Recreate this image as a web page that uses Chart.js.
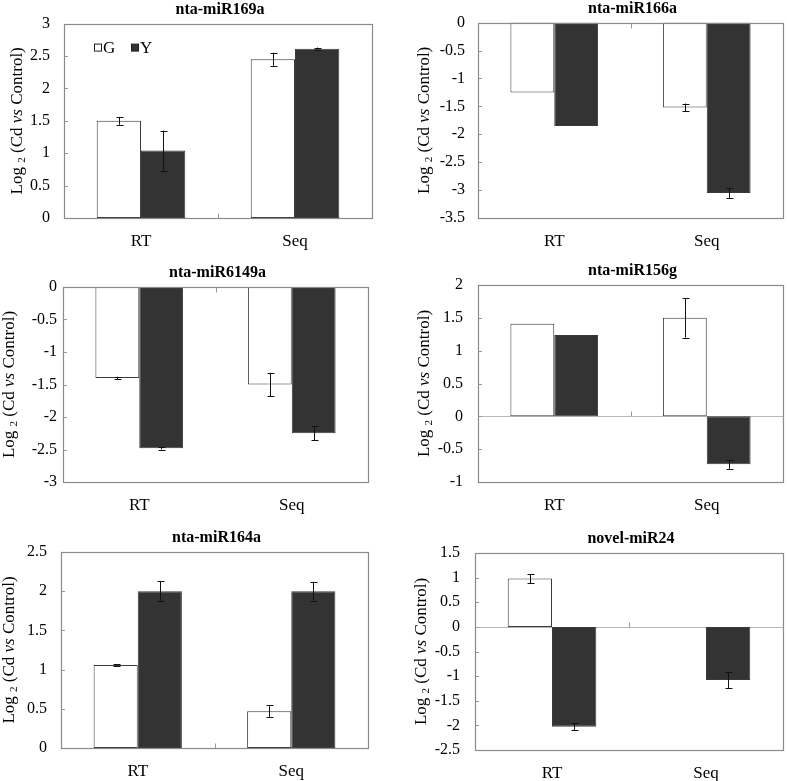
<!DOCTYPE html>
<html>
<head>
<meta charset="utf-8">
<script src="https://cdn.jsdelivr.net/npm/chart.js@4.4.0/dist/chart.umd.min.js"></script>
<style>
    body { margin: 0; background: #fff; width: 787px; height: 781px; position: relative; overflow: hidden; }
    .cell { position: absolute; }
</style>
</head>
<body>
<div class="cell" id="cell1"><canvas id="chart1"></canvas></div>
<div class="cell" id="cell2"><canvas id="chart2"></canvas></div>
<div class="cell" id="cell3"><canvas id="chart3"></canvas></div>
<div class="cell" id="cell4"><canvas id="chart4"></canvas></div>
<div class="cell" id="cell5"><canvas id="chart5"></canvas></div>
<div class="cell" id="cell6"><canvas id="chart6"></canvas></div>
<script>
// Data
const categories = ['RT', 'Seq'];
const seriesNames = ['G', 'Y'];

const mir169aG = [1.50, 2.45];
const mir169aGErr = [0.06, 0.10];
const mir169aY = [1.04, 2.61];
const mir169aYErr = [0.31, 0.02];

const mir166aG = [-1.25, -1.52];
const mir166aGErr = [0, 0.07];
const mir166aY = [-1.85, -3.05];
const mir166aYErr = [0, 0.09];

const mir6149aG = [-1.40, -1.50];
const mir6149aGErr = [0.02, 0.18];
const mir6149aY = [-2.48, -2.25];
const mir6149aYErr = [0.02, 0.11];

const mir156gG = [1.41, 1.50];
const mir156gGErr = [0, 0.30];
const mir156gY = [1.24, -0.73];
const mir156gYErr = [0, 0.07];

const mir164aG = [1.06, 0.47];
const mir164aGErr = [0.01, 0.08];
const mir164aY = [2.00, 2.00];
const mir164aYErr = [0.13, 0.12];

const miR24G = [0.98, 0];
const miR24GErr = [0.09, 0];
const miR24Y = [-2.03, -1.08];
const miR24YErr = [0.07, 0.16];

const panelTitles = ['nta-miR169a', 'nta-miR166a', 'nta-miR6149a', 'nta-miR156g', 'nta-miR164a', 'novel-miR24'];
const axisMin = [0, -3.5, -3, -1, 0, -2.5];
const axisMax = [3, 0, 0, 2, 2.5, 1.5];

const panelData = [
    [mir169aG, mir169aY, mir169aGErr, mir169aYErr],
    [mir166aG, mir166aY, mir166aGErr, mir166aYErr],
    [mir6149aG, mir6149aY, mir6149aGErr, mir6149aYErr],
    [mir156gG, mir156gY, mir156gGErr, mir156gYErr],
    [mir164aG, mir164aY, mir164aGErr, mir164aYErr],
    [miR24G, miR24Y, miR24GErr, miR24YErr]
];

// Layout: cell [x, y, w, h] and plot box [left, top, right, bottom] in page pixels
const panelLayout = [
    { cell: [0, 0, 390, 258],     plot: [64, 22, 372, 218],  yTitleX: 18, tickPad: 14, legend: true },
    { cell: [390, 0, 397, 258],   plot: [478, 22, 783, 218], yTitleX: 35, tickPad: 13 },
    { cell: [0, 258, 390, 260],   plot: [63, 287, 368, 482], yTitleX: 10, tickPad: 6 },
    { cell: [390, 258, 397, 260], plot: [478, 285, 783, 482], yTitleX: 35, tickPad: 15 },
    { cell: [0, 518, 390, 263],   plot: [61, 552, 368, 748], yTitleX: 10, tickPad: 14 },
    { cell: [390, 518, 397, 263], plot: [475, 553, 783, 750], yTitleX: 32, tickPad: 15 }
];

const SERIF = '"Liberation Serif", "Times New Roman", serif';
const G_FILL = '#ffffff';
const Y_FILL = '#333333';
const BAR_BORDER = '#3a3a3a';
const FRAME = '#8a8a8a';

// Draws the frame, zero line, error bars, titles and legend
const panelDecor = {
    id: 'panelDecor',
    beforeDatasetsDraw(chart, args, opts) {
        const ctx = chart.ctx;
        const a = chart.chartArea;
        const y = chart.scales.y;
        const zero = Math.round(y.getPixelForValue(0)) + 0.5;
        ctx.save();
        ctx.lineWidth = 1;
        // zero line
        if (zero > a.top + 2 && zero < a.bottom - 2) {
            ctx.strokeStyle = '#b8b8b8';
            ctx.beginPath();
            ctx.moveTo(a.left, zero);
            ctx.lineTo(a.right, zero);
            ctx.stroke();
        }
        // inward y ticks
        ctx.strokeStyle = '#999';
        y.ticks.forEach(t => {
            const py = Math.round(y.getPixelForValue(t.value)) + 0.5;
            ctx.beginPath();
            ctx.moveTo(a.left, py);
            ctx.lineTo(a.left + 4, py);
            ctx.stroke();
        });
        // category divider tick on the zero line
        const mid = Math.round((a.left + a.right) / 2) + 0.5;
        const dir = zero < a.top + 2 ? 1 : -1;
        ctx.beginPath();
        ctx.moveTo(mid, zero);
        ctx.lineTo(mid, zero + dir * 5);
        ctx.stroke();
        ctx.restore();
    },
    afterDatasetsDraw(chart, args, opts) {
        const ctx = chart.ctx;
        const y = chart.scales.y;
        ctx.save();
        ctx.strokeStyle = '#111';
        ctx.lineWidth = 1;
        chart.data.datasets.forEach((ds, i) => {
            const meta = chart.getDatasetMeta(i);
            const errs = opts.errors[i];
            meta.data.forEach((bar, j) => {
                const e = errs[j];
                if (!e) return;
                const v = ds.data[j];
                const x = Math.round(bar.x) + 0.5;
                const y1 = y.getPixelForValue(v + e);
                const y2 = y.getPixelForValue(v - e);
                ctx.beginPath();
                ctx.moveTo(x, y1); ctx.lineTo(x, y2);
                ctx.moveTo(x - 3, Math.round(y1) + 0.5); ctx.lineTo(x + 4, Math.round(y1) + 0.5);
                ctx.moveTo(x - 3, Math.round(y2) + 0.5); ctx.lineTo(x + 4, Math.round(y2) + 0.5);
                ctx.stroke();
            });
        });
        ctx.restore();
    },
    afterDraw(chart, args, opts) {
        const ctx = chart.ctx;
        const a = chart.chartArea;
        ctx.save();
        // frame
        ctx.strokeStyle = FRAME;
        ctx.lineWidth = 1.2;
        ctx.strokeRect(Math.round(a.left) + 0.5, Math.round(a.top) + 0.5,
            Math.round(a.right - a.left), Math.round(a.bottom - a.top));

        // panel title
        ctx.fillStyle = '#000';
        ctx.font = 'bold 16px ' + SERIF;
        ctx.textAlign = 'center';
        ctx.textBaseline = 'middle';
        ctx.fillText(opts.title, (a.left + a.right) / 2 + 2, a.top - 14);

        // y axis title: Log2 (Cd vs Control)
        const parts = [
            { t: 'Log', f: '17px ' + SERIF, dy: 0 },
            { t: ' ', f: '17px ' + SERIF, dy: 0 },
            { t: '2', f: '11px ' + SERIF, dy: 4 },
            { t: ' (Cd ', f: '17px ' + SERIF, dy: 0 },
            { t: 'vs', f: 'italic 17px ' + SERIF, dy: 0 },
            { t: ' Control)', f: '17px ' + SERIF, dy: 0 }
        ];
        let total = 0;
        parts.forEach(p => { ctx.font = p.f; p.w = ctx.measureText(p.t).width; total += p.w; });
        ctx.translate(opts.yTitleX, (a.top + a.bottom) / 2);
        ctx.rotate(-Math.PI / 2);
        ctx.textAlign = 'left';
        let x = -total / 2;
        parts.forEach(p => {
            ctx.font = p.f;
            ctx.fillText(p.t, x, p.dy);
            x += p.w;
        });
        ctx.setTransform(1, 0, 0, 1, 0, 0);

        // legend inside plot area
        if (opts.legend) {
            ctx.font = '17px ' + SERIF;
            ctx.textAlign = 'left';
            ctx.textBaseline = 'middle';
            let lx = a.left + 30;
            const ly = a.top + 24;
            chart.data.datasets.forEach(ds => {
                ctx.fillStyle = ds.backgroundColor;
                ctx.fillRect(lx + 0.5, ly - 3.5, 7, 7);
                ctx.strokeStyle = '#222';
                ctx.lineWidth = 1;
                ctx.strokeRect(lx + 0.5, ly - 3.5, 7, 7);
                ctx.fillStyle = '#000';
                ctx.fillText(ds.label, lx + 9, ly + 1);
                lx += 37;
            });
        }
        ctx.restore();
    }
};

function buildPanel(i) {
    const lay = panelLayout[i];
    const [gVals, yVals, gErr, yErr] = panelData[i];
    const cell = document.getElementById('cell' + (i + 1));
    cell.style.left = lay.cell[0] + 'px';
    cell.style.top = lay.cell[1] + 'px';
    cell.style.width = lay.cell[2] + 'px';
    cell.style.height = lay.cell[3] + 'px';

    const yWidth = lay.plot[0] - lay.cell[0];
    const xHeight = lay.cell[1] + lay.cell[3] - lay.plot[3];

    return new Chart(document.getElementById('chart' + (i + 1)), {
        type: 'bar',
        data: {
            labels: categories,
            datasets: [
                { label: seriesNames[0], data: gVals, backgroundColor: G_FILL, borderColor: BAR_BORDER, borderWidth: 1, borderSkipped: false },
                { label: seriesNames[1], data: yVals, backgroundColor: Y_FILL, borderColor: BAR_BORDER, borderWidth: 1, borderSkipped: false }
            ]
        },
        options: {
            responsive: true,
            maintainAspectRatio: false,
            animation: false,
            categoryPercentage: 0.575,
            barPercentage: 1.0,
            layout: {
                padding: {
                    left: 0,
                    top: lay.plot[1] - lay.cell[1],
                    right: lay.cell[0] + lay.cell[2] - lay.plot[2],
                    bottom: 0
                }
            },
            scales: {
                x: {
                    grid: { display: false, drawTicks: false },
                    border: { display: false },
                    ticks: { color: '#000', font: { family: SERIF, size: 17 }, padding: 13 },
                    afterFit(scale) { scale.height = xHeight; }
                },
                y: {
                    min: axisMin[i],
                    max: axisMax[i],
                    grid: { display: false, drawTicks: false },
                    border: { display: false },
                    ticks: {
                        stepSize: 0.5,
                        color: '#000',
                        font: { family: SERIF, size: 16 },
                        padding: lay.tickPad,
                        callback: v => String(v)
                    },
                    afterFit(scale) { scale.width = yWidth; }
                }
            },
            plugins: {
                legend: { display: false },
                tooltip: { enabled: false },
                panelDecor: {
                    title: panelTitles[i],
                    yTitleX: lay.yTitleX,
                    legend: !!lay.legend,
                    errors: [gErr, yErr]
                }
            }
        },
        plugins: [panelDecor]
    });
}

panelLayout.forEach((lay, i) => buildPanel(i));
</script>
</body>
</html>
